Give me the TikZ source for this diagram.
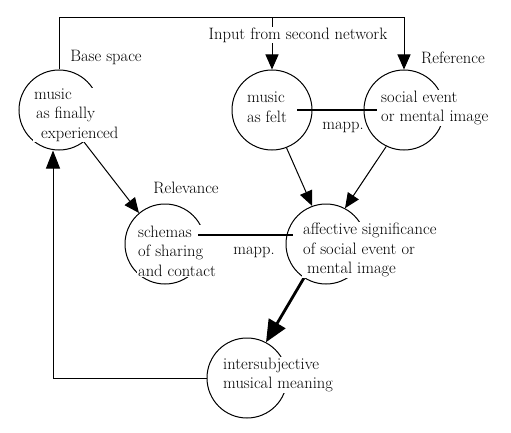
\documentclass[tikz,border=0pt]{standalone}
\usetikzlibrary{arrows.meta}
\begin{document}
\begin{tikzpicture}[x=1pt,y=-1pt,
    space/.style = {circle,draw,line width=1pt,minimum size=80pt,inner sep=0pt},
    txt/.style = {anchor=west,align=left,fill=white,inner sep=1pt,font=\fontsize{16.5}{19.5}\selectfont},
    lbl/.style = {inner sep=1pt,font=\fontsize{16.5}{19.5}\selectfont},
    arr/.style = {line width=1pt,-{Triangle[length=15pt,width=13pt]}},
    mapp/.style = {line width=2.8pt}]
\useasboundingbox (0,0) rectangle (511,433);
\node[space] (exp)    at (59,110) {};
\node[space] (felt)   at (272,110) {};
\node[space] (social) at (404,110) {};
\node[space] (schem)  at (165,244) {};
\node[space] (aff)    at (326,244) {};
\node[space] (inter)  at (247,378) {};
\coordinate (corner) at (404,18);
\draw[arr] (exp.north) |- (corner) -- (social.north);
\draw[arr] (felt.north |- corner) -- (felt.north);
\draw[arr] (exp.-52) -- (schem.130);
\draw[arr] (felt.-69) -- (aff.110);
\draw[arr] (social.-116) -- (aff.62);
\draw[line width=2.8pt,-{Triangle[length=22pt,width=19pt]}] (aff.-123) -- (inter.62);
\draw[arr,-{Triangle[length=18pt,width=14pt]}] (inter.west) -| ([xshift=-6pt]exp.south);
% texts
\node[txt] (exptxt)    at (33,115)  {music\\\hspace{2pt}as finally\\\hspace{7pt}experienced};
\node[txt] (felttxt)   at (246,107) {music\\as felt};
\node[txt] (socialtxt) at (380,108) {social event\\or mental image};
\node[txt] (schemtxt)  at (137,251) {schemas\\of sharing\\and contact};
\node[txt] (afftxt)    at (302,250) {affective significance\\of social event or\\\hspace{4pt}mental image};
\node[txt] (intertxt)  at (222,375) {intersubjective\\musical meaning};
\node[lbl] (base)  at (106,57)  {Base space};
\node[lbl,fill=white] (input) at (298,35) {Input from second network};
\node[lbl] (ref)   at (453,58)  {Reference};
\node[lbl] (rel)   at (186,188) {Relevance};
\node[lbl] (mapp1) at (343,127) {mapp.};
\node[lbl] (mapp2) at (254,252) {mapp.};
% mappings
\draw[mapp] ([xshift=25pt]felt.center) -- ([xshift=-27pt]social.center);
\draw[mapp] ([shift={(33,-9)}]schem.center) -- ([shift={(-33,-9)}]aff.center);
\end{tikzpicture}
\end{document}
